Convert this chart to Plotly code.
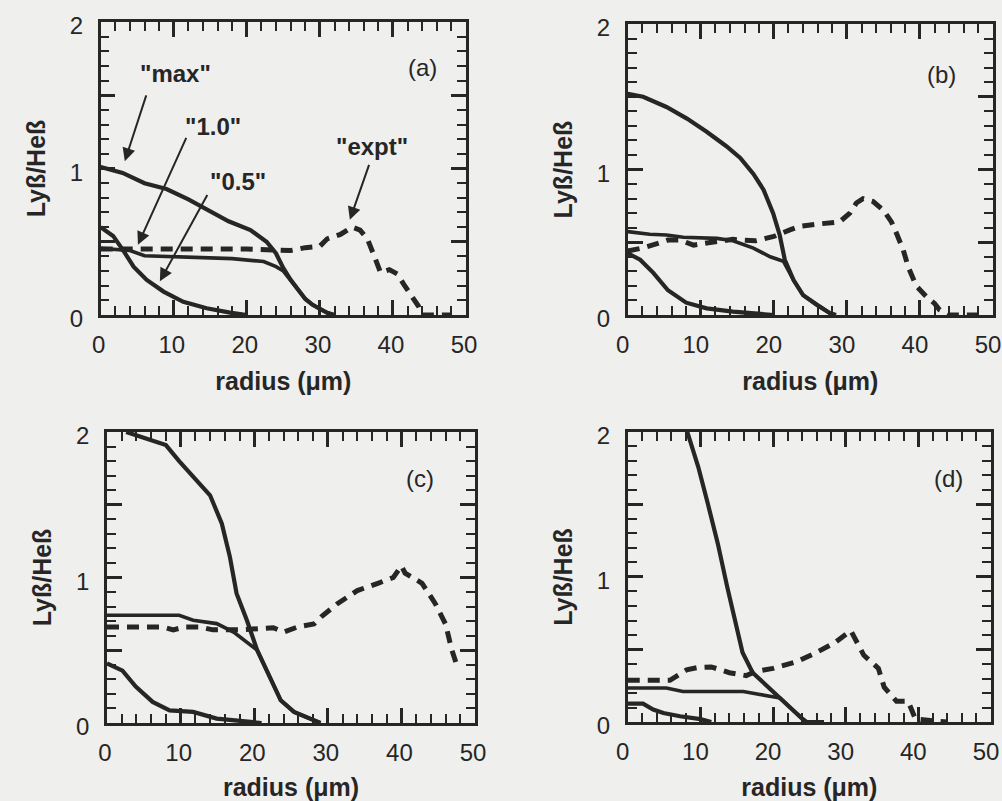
import plotly.graph_objects as go

# ---------------- data ----------------
# panel (a)
xa_max = [0, 3, 6, 9, 12, 14.5, 17.5, 20.5, 22.7, 24, 25, 26, 27, 28, 29, 30, 31, 32]
ya_max = [1.01, 0.97, 0.90, 0.86, 0.79, 0.72, 0.64, 0.58, 0.50, 0.42, 0.32, 0.24, 0.17, 0.11, 0.07, 0.04, 0.015, 0.0]
xa_10 = [0, 4, 6, 10, 14, 18, 22.3, 24, 25, 26, 27, 28, 29, 30, 31, 32]
ya_10 = [0.455, 0.44, 0.405, 0.40, 0.395, 0.385, 0.365, 0.33, 0.30, 0.235, 0.165, 0.11, 0.07, 0.04, 0.015, 0.0]
xa_05 = [0, 1.7, 3.1, 4.5, 6.3, 8.6, 11.3, 14.5, 17.7, 20]
ya_05 = [0.60, 0.54, 0.44, 0.33, 0.24, 0.16, 0.09, 0.046, 0.016, 0.0]
xa_ex = [0, 10, 20, 26, 28, 30, 31, 32.8, 34.4, 35.5, 36.5, 37.3, 38.3, 39.5, 40.6, 41.6, 42.5, 43.5, 44, 48]
ya_ex = [0.45, 0.45, 0.45, 0.44, 0.46, 0.47, 0.52, 0.55, 0.60, 0.58, 0.52, 0.42, 0.29, 0.31, 0.28, 0.20, 0.14, 0.06, 0.0, 0.0]

# panel (b)
xb_max = [0, 2.1, 5.3, 8.1, 10.8, 13.5, 15.4, 17.2, 18.6, 19.9, 20.8, 21.5, 22.7, 24, 25.9, 27.7, 28.5]
yb_max = [1.52, 1.50, 1.43, 1.35, 1.26, 1.16, 1.08, 0.97, 0.86, 0.70, 0.55, 0.38, 0.24, 0.137, 0.069, 0.012, 0.0]
xb_10 = [0, 3, 5.3, 7.6, 12.2, 14.4, 17.2, 19.5, 21.3, 22.7, 24, 25.9, 27.7, 28.5]
yb_10 = [0.573, 0.555, 0.55, 0.535, 0.527, 0.51, 0.46, 0.40, 0.37, 0.24, 0.137, 0.069, 0.012, 0.0]
xb_05 = [0, 1.7, 3.5, 5.5, 8, 10.8, 14.4, 18, 20]
yb_05 = [0.424, 0.38, 0.29, 0.17, 0.085, 0.046, 0.023, 0.01, 0.0]
xb_ex = [0, 2, 4, 5.5, 7.2, 9, 11.5, 14.4, 17.5, 20, 22.2, 23.6, 26, 29, 30.4, 31.3, 32.2, 33.6, 35,
         36.1, 36.8, 37.7, 38.4, 39.5, 40.9, 42, 42.7, 44, 48]
yb_ex = [0.44, 0.46, 0.49, 0.515, 0.515, 0.48, 0.50, 0.52, 0.51, 0.54, 0.585, 0.61, 0.625, 0.64, 0.70,
         0.77, 0.80, 0.78, 0.72, 0.64, 0.56, 0.45, 0.33, 0.20, 0.125, 0.08, 0.035, 0.0, 0.0]

# panel (c)
xc_max = [2.6, 5, 8.0, 9.8, 12.6, 14, 15.6, 16.7, 17.6, 19, 20.4, 21.7, 23.6, 25.4, 28.1, 29]
yc_max = [2.0, 1.96, 1.91, 1.80, 1.645, 1.565, 1.37, 1.14, 0.89, 0.706, 0.50, 0.36, 0.156, 0.076, 0.018, 0.0]
xc_10 = [0, 5, 9.8, 11.7, 14.9, 17.2, 19.5, 20.4, 21.7, 23.6, 25.4, 28.1, 29]
yc_10 = [0.74, 0.74, 0.74, 0.706, 0.683, 0.625, 0.534, 0.50, 0.36, 0.156, 0.076, 0.018, 0.0]
xc_05 = [0, 2.1, 3.9, 6.2, 8.5, 11.7, 14.9, 17.2, 21]
yc_05 = [0.41, 0.36, 0.25, 0.145, 0.087, 0.076, 0.03, 0.018, 0.0]
xc_ex = [0, 7.6, 9, 10.5, 12.5, 14.4, 18, 22.6, 24, 25.9, 28.1, 29.1, 31.3, 34, 36.8, 38.9, 40, 40.5,
         42.8, 44.6, 46, 46.8, 47.5]
yc_ex = [0.66, 0.66, 0.64, 0.66, 0.66, 0.64, 0.64, 0.655, 0.625, 0.66, 0.68, 0.73, 0.82, 0.91, 0.96, 1.00,
         1.08, 1.03, 0.96, 0.82, 0.68, 0.51, 0.40]

# panel (d)
xd_max = [8.2, 9.7, 11.0, 12.4, 13.7, 14.9, 15.8, 17.2, 19.1, 21, 22.6, 24.0, 24.6, 27]
yd_max = [2.0, 1.76, 1.51, 1.23, 0.93, 0.66, 0.48, 0.34, 0.25, 0.165, 0.09, 0.023, 0.0, 0.0]
xd_10 = [0, 5.3, 7.6, 15.9, 18.2, 20, 21, 22.6, 24, 24.6, 27]
yd_10 = [0.235, 0.235, 0.21, 0.21, 0.19, 0.17, 0.165, 0.09, 0.023, 0.0, 0.0]
xd_05 = [0, 2.1, 3.5, 4.9, 7.2, 10, 11.5]
yd_05 = [0.127, 0.127, 0.086, 0.062, 0.04, 0.02, 0.0]
xd_ex = [0, 5.8, 8.1, 9.6, 11.5, 14, 16.3, 17.7, 20, 23.2, 25.8, 28.6, 30.7, 32.5, 34.5, 35.3, 37, 38.6, 39.6, 44]
yd_ex = [0.288, 0.288, 0.36, 0.375, 0.38, 0.34, 0.32, 0.35, 0.37, 0.415, 0.475, 0.55, 0.63, 0.46, 0.37,
         0.24, 0.143, 0.143, 0.02, 0.0]

panel_labels = ["(a)", "(b)", "(c)", "(d)"]
x_tickvals = [0, 10, 20, 30, 40, 50]
y_tickvals = [0, 0.5, 1, 1.5, 2]
y_ticktext = ["0", "", "1", "", "2"]

# ---------------- styling ----------------
INK = "#262626"
BG = "#efefed"
FONT = "Liberation Sans, Arial, Helvetica, sans-serif"

panels = [
    dict(max=(xa_max, ya_max), one=(xa_10, ya_10), half=(xa_05, ya_05), ex=(xa_ex, ya_ex),
         xdom=[0.1005, 0.4651], ydom=[0.6067, 0.9725], lab=(44.0, 1.69), shift=-2),
    dict(max=(xb_max, yb_max), one=(xb_10, yb_10), half=(xb_05, yb_05), ex=(xb_ex, yb_ex),
         xdom=[0.6265, 0.9910], ydom=[0.6067, 0.9700], lab=(42.9, 1.65), shift=-5),
    dict(max=(xc_max, yc_max), one=(xc_10, yc_10), half=(xc_05, yc_05), ex=(xc_ex, yc_ex),
         xdom=[0.1068, 0.4741], ydom=[0.0974, 0.4607], lab=(42.5, 1.68), shift=-2),
    dict(max=(xd_max, yd_max), one=(xd_10, yd_10), half=(xd_05, yd_05), ex=(xd_ex, yd_ex),
         xdom=[0.6265, 0.9890], ydom=[0.0986, 0.4607], lab=(44.1, 1.68), shift=-5),
]

fig = go.Figure()
annotations = []
for i, p in enumerate(panels):
    n = "" if i == 0 else str(i + 1)
    xr, yr = "x" + n, "y" + n
    for key, w in (("max", 4.2), ("one", 3.6), ("half", 4.2)):
        xs, ys = p[key]
        fig.add_trace(go.Scatter(x=xs, y=ys, mode="lines", xaxis=xr, yaxis=yr,
                                 line=dict(color=INK, width=w), showlegend=False, hoverinfo="skip"))
    xs, ys = p["ex"]
    fig.add_trace(go.Scatter(x=xs, y=ys, mode="lines", xaxis=xr, yaxis=yr,
                             line=dict(color=INK, width=5, dash="12px,8px"),
                             showlegend=False, hoverinfo="skip"))

    fig.layout["xaxis" + n] = dict(
        domain=p["xdom"], anchor=yr, range=[0, 50], automargin=False,
        tickmode="array", tickvals=x_tickvals,
        ticks="inside", ticklen=15, tickwidth=2.5, tickcolor=INK,
        minor=dict(tick0=0, dtick=2, ticks="inside", ticklen=9, tickwidth=2.2, tickcolor=INK),
        showline=True, linewidth=2.5, linecolor=INK, mirror="allticks",
        showgrid=False, zeroline=False, ticklabeloverflow="allow",
        tickfont=dict(family=FONT, size=24, color=INK), ticklabelstandoff=6,
        ticklabelshift=p["shift"],
        title=dict(text="<b>radius (μm)</b>", font=dict(family=FONT, size=25, color=INK), standoff=16),
    )
    fig.layout["yaxis" + n] = dict(
        domain=p["ydom"], anchor=xr, range=[0, 2], automargin=False,
        tickmode="array", tickvals=y_tickvals, ticktext=y_ticktext,
        ticks="inside", ticklen=15, tickwidth=2.5, tickcolor=INK,
        minor=dict(tick0=0, dtick=0.1, ticks="inside", ticklen=9, tickwidth=2.2, tickcolor=INK),
        showline=True, linewidth=2.5, linecolor=INK, mirror="allticks",
        showgrid=False, zeroline=False, ticklabeloverflow="allow",
        tickfont=dict(family=FONT, size=24, color=INK), ticklabelstandoff=10,
        ticklabelshift=4,
        title=dict(text="<b>Lyß/Heß</b>", font=dict(family=FONT, size=25, color=INK), standoff=18),
    )
    annotations.append(dict(x=p["lab"][0], y=p["lab"][1], xref=xr, yref=yr, text=panel_labels[i],
                            showarrow=False, font=dict(family=FONT, size=24, color=INK)))

# labels and arrows in panel (a)
callouts = [
    ('"max"', 10.3, 1.65, 6.3, 1.51, 3.3, 1.05),
    ('"1.0"', 15.4, 1.29, 11.8, 1.22, 5.1, 0.48),
    ('"0.5"', 18.8, 0.91, 14.7, 0.83, 8.1, 0.23),
    ('"expt"', 37.1, 1.15, 36.8, 1.035, 34.1, 0.65),
]
for txt, tx, ty, ax0, ay0, hx, hy in callouts:
    annotations.append(dict(x=tx, y=ty, xref="x", yref="y", text="<b>" + txt + "</b>", showarrow=False,
                            font=dict(family=FONT, size=24, color=INK)))
    annotations.append(dict(x=hx, y=hy, ax=ax0, ay=ay0, xref="x", yref="y", axref="x", ayref="y",
                            text="", showarrow=True, arrowhead=2, arrowsize=1.3, arrowwidth=2,
                            arrowcolor=INK, standoff=0))

fig.update_layout(
    template="none",
    width=1002, height=801, margin=dict(l=0, r=0, t=0, b=0, pad=0, autoexpand=False),
    paper_bgcolor=BG, plot_bgcolor=BG,
    annotations=annotations, showlegend=False,
    font=dict(family=FONT, color=INK),
)

fig.write_html("out.html")
